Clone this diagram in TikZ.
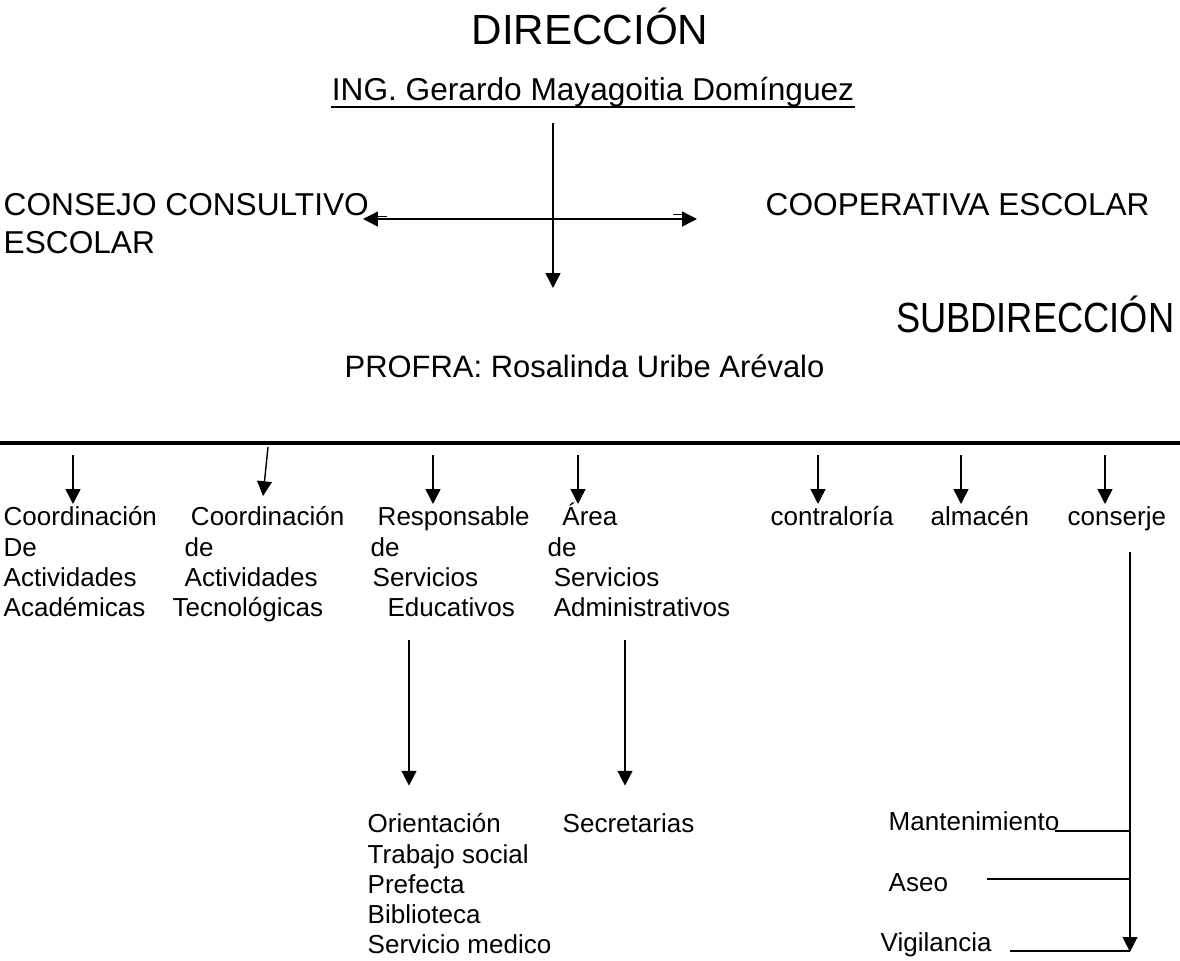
\documentclass[tikz,border=0pt]{standalone}
\usepackage{fontspec}
\setmainfont{Liberation Sans}
\usetikzlibrary{arrows.meta, calc, positioning}
\newcommand{\titlesize}{\fontsize{30}{36}\selectfont}
\newcommand{\midsize}{\fontsize{22.5}{26.5}\selectfont}
\newcommand{\bodysize}{\fontsize{18.5}{21.5}\selectfont}
\tikzset{>={Triangle[width=10.5pt,length=10.5pt]}}

\begin{document}
\begin{tikzpicture}[x=0.025cm, y=-0.025cm, line width=1pt,
	lbl/.style={anchor=north west, inner sep=0pt, align=left, font=\bodysize},
	head/.style={inner sep=0pt, font=\midsize}]

	\useasboundingbox (0,0) rectangle (1180,961);

	% direccion
	\node [anchor=base, font=\titlesize] (dir) at (590,44) {DIRECCIÓN};
	\node [head, anchor=base] (ing) at (593,100) {ING. Gerardo Mayagoitia Domínguez};
	\draw [line width=1.3pt] ($(ing.base west)+(0,7)$) -- ($(ing.base east)+(0,7)$);
	\coordinate (d1) at (553,288);
	\draw [->] ($(ing.base -| d1)+(0,23)$) -- (d1);

	\node [head, anchor=north west, align=left] (consejo) at (3,189) {\strut CONSEJO CONSULTIVO\\ESCOLAR};
	\node [head, anchor=base west] (coop) at (765,215) {COOPERATIVA ESCOLAR};
	\coordinate (h1) at (363,219);
	\coordinate (h2) at (697,219);
	\draw [<->] (h1) -- (h2);
	\draw [line width=.6pt] (369,216) -- (387,216);
	\draw [line width=.6pt] (673,214) -- (685,214);

	% subdireccion
	\node [anchor=base east, inner sep=0pt, font=\titlesize] (subdir) at (1175,332) {\scalebox{0.86}[1]{SUBDIRECCIÓN}};
	\node [anchor=base west, inner sep=0pt, font=\fontsize{22}{26}\selectfont] (profra) at (344,377) {PROFRA: Rosalinda Uribe Arévalo};

	\draw [line width=2.8pt] (0,443) -- (1180,443);

	% areas
	\node [lbl] (acad) at (3,504) {\strut Coordinación\\De\\Actividades\\Académicas};
	\node [lbl] (tecno) at (172,504) {\strut\hspace{13pt}Coordinación\\\hspace{8.5pt}de\\\hspace{8.5pt}Actividades\\Tecnológicas};
	\node [lbl] (educ) at (370,504) {\strut\hspace{5pt}Responsable\\de\\\hspace{1.4pt}Servicios\\\hspace{12pt}Educativos};
	\node [lbl] (admin) at (547,504) {\strut\hspace{10.5pt}\smash{Área}\\de\\\hspace{4.3pt}Servicios\\\hspace{4.3pt}Administrativos};
	\node [lbl] (contra) at (770,504) {\strut contraloría};
	\node [lbl] (almacen) at (930,504) {\strut almacén};
	\node [lbl] (conserje) at (1067,504) {\strut conserje};

	\coordinate (s1) at (73,455);
	\coordinate (s2) at (268,447);
	\coordinate (s3) at (433,455);
	\coordinate (s4) at (578,455);
	\coordinate (s5) at (818,455);
	\coordinate (s6) at (961,455);
	\coordinate (s7) at (1105,455);
	\draw [->] (s1) -- (s1 |- acad.north);
	\draw [->] (s2) -- ($(s2 |- tecno.north)+(-5,-8)$);
	\draw [->] (s3) -- (s3 |- educ.north);
	\draw [->] (s4) -- (s4 |- admin.north);
	\draw [->] (s5) -- (s5 |- contra.north);
	\draw [->] (s6) -- (s6 |- almacen.north);
	\draw [->] (s7) -- (s7 |- conserje.north);

	% personal
	\node [lbl] (orient) at (367,811) {\strut Orientación\\Trabajo social\\Prefecta\\Biblioteca\\Servicio medico};
	\node [lbl] (secre) at (562,811) {\strut Secretarias};
	\node [lbl] (mant) at (888,809) {\strut Mantenimiento};
	\node [lbl] (aseo) at (888,870) {\strut Aseo};
	\node [lbl] (vigi) at (880,930) {\strut Vigilancia};

	\coordinate (b3) at (409,640);
	\coordinate (b4) at (625,640);
	\draw [->, shorten >=18pt] (b3) -- (b3 |- orient.north);
	\draw [->, shorten >=18pt] (b4) -- (b4 |- secre.north);

	\coordinate (c0) at (1130,552);
	\draw [->] (c0) -- (c0 |- vigi.base);
	\draw ($(mant.base east)+(-5,0)$) -- (c0 |- mant.base);
	\draw ($(aseo.base east)+(38,-13)$) coordinate (a1) -- (a1 -| c0);
	\draw ($(vigi.base east)+(18,-1)$) coordinate (v1) -- (v1 -| c0);

\end{tikzpicture}
\end{document}
